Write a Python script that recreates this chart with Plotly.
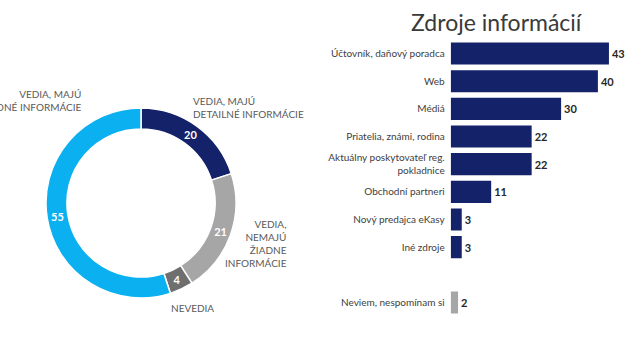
import plotly.graph_objects as go

# Donut data
donut_labels = ["VEDIA, MAJÚ DETAILNÉ INFORMÁCIE", "VEDIA, NEMAJÚ ŽIADNE INFORMÁCIE", "NEVEDIA", "VEDIA, MAJÚ ZÁKLADNÉ INFORMÁCIE"]
donut_values = [20, 21, 4, 55]
donut_colors = ["#14226a", "#a6a6a6", "#6f6f6f", "#0bb0f0"]

# Bar data
bar_title = "Zdroje informácií"
bar_categories = ["Účtovník, daňový poradca", "Web", "Médiá", "Priatelia, známi, rodina",
                  "Aktuálny poskytovateľ reg.<br>pokladnice", "Obchodní partneri",
                  "Nový predajca eKasy", "Iné zdroje", " ", "Neviem, nespomínam si"]
bar_values = [43, 40, 30, 22, 22, 11, 3, 3, None, 2]
bar_colors = ["#14226a"] * 9 + ["#a6a6a6"]

W, H = 640, 360
fig = go.Figure()

# donut geometry (pixels)
cx, cy, r = 141, 203, 95
fig.add_trace(go.Pie(
    values=donut_values, labels=donut_labels, sort=False, direction="clockwise",
    rotation=0, hole=0.78,
    marker=dict(colors=donut_colors, line=dict(color="white", width=1.5)),
    text=["<b>%d</b>" % v for v in donut_values], textinfo="text", textposition="inside",
    insidetextorientation="horizontal",
    textfont=dict(color="white", size=11, family="Lato"),
    domain=dict(x=[(cx - r) / W, (cx + r) / W], y=[(H - cy - r) / H, (H - cy + r) / H]),
    showlegend=False, hoverinfo="label+value",
))

fig.add_trace(go.Bar(
    x=bar_values, y=bar_categories, orientation="h",
    marker=dict(color=bar_colors, line=dict(width=0)),
    text=[("<b>%d</b>" % v) if v is not None else "" for v in bar_values],
    textposition="outside", cliponaxis=False,
    textfont=dict(color="#262626", size=11, family="Lato"),
    xaxis="x", yaxis="y", showlegend=False,
))

x0 = 450.7
ppu = 3.68
top_px, bot_px = 39.7, 316.3

lab_font = dict(family="Lato", size=10, color="#595959")
annotations = [
    dict(text="VEDIA, MAJÚ<br>DETAILNÉ INFORMÁCIE", x=191 / W, y=1 - 93 / H, xanchor="left", yanchor="top", align="left"),
    dict(text="VEDIA,<br>NEMAJÚ<br>ŽIADNE<br>INFORMÁCIE", x=289 / W, y=1 - 216 / H, xanchor="right", yanchor="top", align="right"),
    dict(text="NEVEDIA", x=169 / W, y=1 - 300 / H, xanchor="left", yanchor="top", align="left"),
    dict(text="VEDIA, MAJÚ<br>ZÁKLADNÉ INFORMÁCIE", x=84 / W, y=1 - 86 / H, xanchor="right", yanchor="top", align="right"),
]
for a in annotations:
    a.update(xref="paper", yref="paper", showarrow=False, font=lab_font)
annotations.append(dict(text=bar_title, xref="paper", yref="paper", x=497 / W, y=1 - 22 / H,
                        xanchor="center", yanchor="middle", showarrow=False,
                        font=dict(family="Lato", size=23, color="#3a3a3a")))

fig.update_layout(
    width=W, height=H, margin=dict(l=0, r=0, t=0, b=0),
    paper_bgcolor="white", plot_bgcolor="white",
    bargap=0.2,
    xaxis=dict(domain=[x0 / W, 1], range=[0, (W - x0) / ppu], visible=False, fixedrange=True),
    yaxis=dict(domain=[1 - bot_px / H, 1 - top_px / H], autorange="reversed", type="category",
               showgrid=False, zeroline=False, showline=False, ticks="",
               tickfont=dict(family="Lato", size=10, color="#404040"), ticklabelstandoff=5,
               anchor="x"),
    annotations=annotations,
)

fig.write_html("out.html", config={"displayModeBar": False},
               post_script="document.body.style.margin='0';")
